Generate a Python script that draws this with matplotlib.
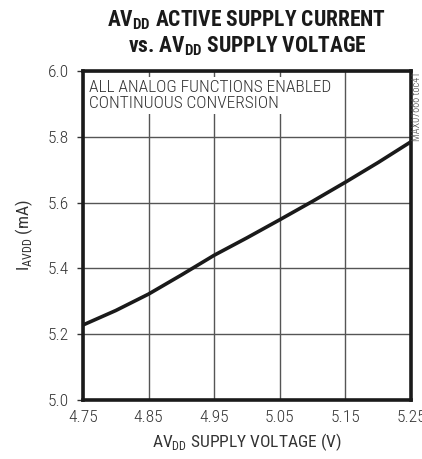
import matplotlib.pyplot as plt
import numpy as np

# AVDD supply voltage (V) vs active supply current (mA)
voltage = [4.75, 4.80, 4.85, 4.90, 4.95, 5.00, 5.05, 5.10, 5.15, 5.20, 5.25]
current = [5.228, 5.272, 5.322, 5.380, 5.440, 5.493, 5.548, 5.604, 5.662, 5.722, 5.785]

xticks = [4.75, 4.85, 4.95, 5.05, 5.15, 5.25]
yticks = [5.0, 5.2, 5.4, 5.6, 5.8, 6.0]

plt.rcParams['font.family'] = ['Roboto Condensed', 'DejaVu Sans']
plt.rcParams['font.weight'] = 'light'
plt.rcParams['mathtext.fontset'] = 'custom'
plt.rcParams['mathtext.rm'] = 'Roboto Condensed:light'

W, H = 422, 459
fig = plt.figure(figsize=(W / 100, H / 100), dpi=100)
ax = fig.add_axes([83 / W, (H - 400) / H, (411 - 83) / W, (400 - 71) / H])

ax.plot(voltage, current, color='#1a1a1a', lw=2.6, solid_capstyle='butt', zorder=3)

ax.set_xlim(4.75, 5.25)
ax.set_ylim(5.0, 6.0)
ax.set_xticks(xticks)
ax.set_yticks(yticks)
ax.set_xticklabels([f'{v:.2f}' for v in xticks])
ax.set_yticklabels([f'{v:.1f}' for v in yticks])
ax.tick_params(axis='x', length=0, pad=7, labelsize=12.5, colors='#333333')
ax.tick_params(axis='y', length=4, width=1, pad=6, labelsize=12.5, colors='#333333')
ax.grid(True, color='#555555', lw=1.0, zorder=1)
for s in ax.spines.values():
    s.set_linewidth(2.6)
    s.set_color('#1a1a1a')
    s.set_zorder(4)

ax.text(4.7585, 5.972,
        'ALL ANALOG FUNCTIONS ENABLED\nCONTINUOUS CONVERSION',
        ha='left', va='top', fontsize=12.5, color='#333333', linespacing=1.05,
        zorder=2,
        bbox=dict(facecolor='white', edgecolor='none', pad=2.5))

ax.set_xlabel(r'AV$_{\mathregular{DD}}$ SUPPLY VOLTAGE (V)', fontsize=12.5,
              color='#333333', labelpad=5)
ax.set_ylabel(r'I$_{\mathregular{AVDD}}$ (mA)', fontsize=12.5, color='#333333',
              labelpad=9)

# title with bold subscripts
plt.rcParams['mathtext.rm'] = 'Roboto Condensed:bold'
fig.text((83 + 411) / 2 / W, 1 - 8 / H,
         r'AV$_{\mathregular{DD}}$ ACTIVE SUPPLY CURRENT' + '\n' +
         r'vs. AV$_{\mathregular{DD}}$ SUPPLY VOLTAGE',
         ha='center', va='top', fontsize=15.5, fontweight='heavy',
         color='#1a1a1a', linespacing=1.15)

fig.text(417 / W, 1 - 106 / H, 'MAX07666 toc41', rotation=90,
         ha='center', va='center', fontsize=7.5, color='#444444')

fig.savefig('out.png', dpi=100)
